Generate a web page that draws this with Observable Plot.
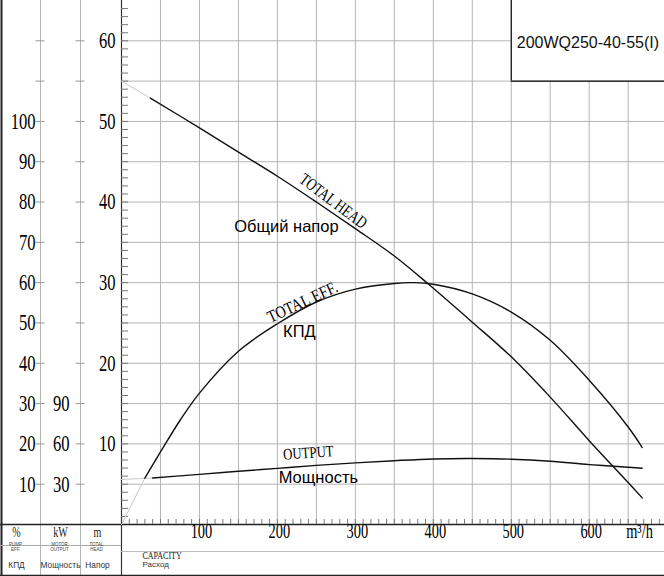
<!DOCTYPE html>
<html><head><meta charset="utf-8">
<script src="https://cdn.jsdelivr.net/npm/d3@7"></script>
<script src="https://cdn.jsdelivr.net/npm/@observablehq/plot@0.6"></script>
<style>
body{margin:0;background:#fff}
#chart{width:664px;height:576px;overflow:hidden}
</style></head><body><div id="chart"></div>
<script>
// ---- data ----
const model = "200WQ250-40-55(I)";
const headQ = [0, 37, 100, 150, 200, 250, 300, 350, 394, 450, 500, 550, 600, 650, 668];
const headM = [55, 52.9, 49.2, 46.2, 43.2, 40.0, 36.7, 33.3, 29.8, 25.1, 20.8, 15.8, 10.4, 5.2, 3.3];
const effQ = [0, 30, 50, 75, 100, 150, 200, 250, 300, 350, 375, 400, 450, 500, 550, 600, 650, 668];
const effPct = [0, 11.5, 18.0, 25.8, 32.6, 43.0, 49.8, 55.2, 58.4, 59.8, 60.0, 59.6, 57.2, 52.7, 45.7, 35.8, 24.2, 19.1];
const powQ = [0, 40, 100, 150, 200, 250, 300, 350, 400, 450, 500, 550, 600, 650, 668];
const powKW = [33.5, 34.6, 37.3, 39.6, 41.8, 44.0, 45.9, 47.5, 48.8, 49.1, 48.6, 47.1, 44.6, 42.6, 41.9];
const headLightTo = 37, effLightTo = 30, powLightTo = 40; // faint extrapolated start of each curve
const headTicks = [10, 20, 30, 40, 50, 60];
const effTicks = [10, 20, 30, 40, 50, 60, 70, 80, 90, 100];
const powTicks = [30, 60, 90];
const capTicks = [100, 200, 300, 400, 500, 600];
const capUnit = "m³/h";
const unitLabels = ["%", "kW", "m"];
const enLabels = ["PUMP\nEFF.", "MOTOR\nOUTPUT", "TOTAL\nHEAD"];
const ruLabels = ["КПД", "Мощность", "Напор"];
const capLabelEn = "CAPACITY", capLabelRu = "Расход";
const curveLabels = {head: ["TOTAL HEAD", "Общий напор"], eff: ["TOTAL EFF.", "КПД"], pow: ["OUTPUT", "Мощность"]};
const effPerM = 2;   // 100 % ↔ 50 m on the shared scale
const kwPerM = 6;    // 30 kW ↔ 5 m on the shared scale

// ---- tables ----
const head = headQ.map((q, i) => ({q, y: headM[i]}));
const eff = effQ.map((q, i) => ({q, y: effPct[i] / effPerM}));
const pow = powQ.map((q, i) => ({q, y: powKW[i] / kwPerM}));
const xMax = 696.6, yMax = 65;
const hGrid = d3.range(5, 61, 5);
const vGrid = d3.range(50, 651, 50);
const minorH = d3.range(1, 65);
const minorQ = d3.range(10, 691, 10);

const SERIF = "Liberation Serif", SANS = "Liberation Sans";
const colDx = [-105, -61, -24];   // column centres relative to the capacity origin
const colLines = [-81, -41];
const grid = "#b4b4b4";
const at = (arr, q) => arr.filter(d => d.q === q);

const marks = [
  // grid
  Plot.ruleY(hGrid, {stroke: grid, strokeWidth: 1}),
  Plot.ruleX(vGrid, {stroke: grid, strokeWidth: 1}),
  // title box
  Plot.rect([model], {x1: 500, x2: xMax, y1: 55, y2: yMax, fill: "white"}),
  Plot.ruleX([500], {y1: 55, y2: yMax, stroke: "black", strokeWidth: 1.2}),
  Plot.ruleY([55], {x1: 500, x2: xMax, stroke: "black", strokeWidth: 1.2}),
  Plot.text([model], {x: (500 + xMax) / 2, y: 60, text: d => d, dy: 2, fontSize: 16, fontFamily: SANS, fill: "#111"}),
  // left column lines
  ...colLines.map(dx => Plot.ruleX([0], {dx, insetBottom: -52, stroke: grid})),
  // column ticks
  ...colLines.map(dx => Plot.ruleY(hGrid, {x1: 0, x2: 0, dx, insetLeft: -4.5, insetRight: -4.5, stroke: "#999"})),
  // axis lines and table lines
  Plot.ruleX([0], {dx: -120, insetBottom: -52, stroke: "#222", strokeWidth: 2}),
  Plot.ruleX([0], {insetBottom: -52, stroke: "#333", strokeWidth: 1.2}),
  Plot.ruleY([0], {insetLeft: -121, stroke: "#222", strokeWidth: 1.5}),
  Plot.ruleY([0], {dy: 21, insetLeft: -121, insetRight: 543, stroke: "#aaa"}),
  Plot.ruleY([0], {dy: 27, stroke: "#bbb"}),
  Plot.ruleY([0], {dy: 51, insetLeft: -121, stroke: "#222", strokeWidth: 1.5}),
  // minor ticks
  Plot.ruleY(minorH, {x1: 0, x2: 0, insetRight: -7, stroke: "#777"}),
  Plot.ruleX(minorQ, {y1: 0, y2: 0, insetTop: -5, stroke: "#777"}),
  // faint starts
  Plot.line(head.filter(d => d.q <= headLightTo), {x: "q", y: "y", stroke: "#c8c8c8", strokeWidth: 1}),
  Plot.line(eff.filter(d => d.q <= effLightTo), {x: "q", y: "y", stroke: "#c8c8c8", strokeWidth: 1}),
  Plot.line(pow.filter(d => d.q <= powLightTo), {x: "q", y: "y", stroke: "#c8c8c8", strokeWidth: 1}),
  // curves
  Plot.line(head.filter(d => d.q >= headLightTo), {x: "q", y: "y", curve: "catmull-rom", stroke: "#111", strokeWidth: 1.4}),
  Plot.line(eff.filter(d => d.q >= effLightTo), {x: "q", y: "y", curve: "catmull-rom", stroke: "#111", strokeWidth: 1.4}),
  Plot.line(pow.filter(d => d.q >= powLightTo), {x: "q", y: "y", curve: "catmull-rom", stroke: "#111", strokeWidth: 1.4}),
  // curve labels
  Plot.text(at(head, 250), {x: "q", y: "y", text: () => curveLabels.head[0], dx: 17, dy: -1, rotate: 37, fontSize: 17, fontFamily: SERIF, className: "c76"}),
  Plot.text(at(head, 200), {x: "q", y: "y", text: () => curveLabels.head[1], dx: 9, dy: 50, fontSize: 16.5, fontFamily: SANS}),
  Plot.text(at(eff, 250), {x: "q", y: "y", text: () => curveLabels.eff[0], dx: -14, dy: 0, rotate: -25, fontSize: 17, fontFamily: SERIF, className: "c84"}),
  Plot.text(at(eff, 250), {x: "q", y: "y", text: () => curveLabels.eff[1], dx: -17, dy: 30, fontSize: 16.5, fontFamily: SANS}),
  Plot.text(at(pow, 250), {x: "q", y: "y", text: () => curveLabels.pow[0], dx: -8, dy: -12.5, rotate: -4, fontSize: 16, fontFamily: SERIF, className: "c80"}),
  Plot.text(at(pow, 250), {x: "q", y: "y", text: () => curveLabels.pow[1], dx: 2, dy: 12, fontSize: 16.5, fontFamily: SANS}),
  // axis labels
  Plot.text(headTicks, {y: d => d, text: d => String(d), frameAnchor: "left", textAnchor: "end", dx: -6, fontSize: 23, fontFamily: SERIF, className: "c72"}),
  Plot.text(effTicks, {y: d => d / effPerM, text: d => String(d), frameAnchor: "left", textAnchor: "end", dx: -86, fontSize: 23, fontFamily: SERIF, className: "c72"}),
  Plot.text(powTicks, {y: d => d / kwPerM, text: d => String(d), frameAnchor: "left", textAnchor: "end", dx: -52, fontSize: 23, fontFamily: SERIF, className: "c72"}),
  Plot.text(capTicks, {x: d => d, text: d => String(d), frameAnchor: "bottom", textAnchor: "middle", dx: 2, dy: 13, fontSize: 20, fontFamily: SERIF, className: "c72"}),
  Plot.text([capUnit], {text: d => d, frameAnchor: "bottom-right", textAnchor: "middle", dx: -25, dy: 13, fontSize: 20, fontFamily: SERIF, className: "c72"}),
  // table texts
  ...unitLabels.map((t, i) => Plot.text([t], {text: d => d, frameAnchor: "bottom-left", textAnchor: "middle", dx: colDx[i], dy: 12, fontSize: 14, fontFamily: SERIF, fill: "#222", className: "c72"})),
  ...enLabels.map((t, i) => Plot.text([t], {text: d => d, frameAnchor: "bottom-left", textAnchor: "middle", dx: colDx[i] - 1, dy: 26.5, fontSize: 4.5, lineHeight: 1.1, fontFamily: SANS, fill: "#444"})),
  ...ruLabels.map((t, i) => Plot.text([t], {text: d => d, frameAnchor: "bottom-left", textAnchor: "middle", dx: colDx[i], dy: 43, fontSize: 8.3, fontFamily: SANS, fill: "#333"})),
  Plot.text([capLabelEn], {text: d => d, frameAnchor: "bottom-left", textAnchor: "start", dx: 21, dy: 34, fontSize: 10, fontFamily: SERIF, fill: "#222", className: "c80"}),
  Plot.text([capLabelRu], {text: d => d, frameAnchor: "bottom-left", textAnchor: "start", dx: 21, dy: 42, fontSize: 8, fontFamily: SANS, fill: "#333"})
];

const chart = Plot.plot({
  width: 664, height: 576,
  marginLeft: 121, marginRight: 0, marginTop: 0, marginBottom: 52,
  x: {domain: [0, xMax], axis: null},
  y: {domain: [0, yMax], axis: null},
  style: {background: "white", overflow: "visible"},
  marks
});
document.getElementById("chart").appendChild(chart);

// condense serif glyphs (the reference uses a narrow serif face)
function condense(sel, k) {
  chart.querySelectorAll(sel).forEach(t => {
    const L = t.getComputedTextLength();
    if (L > 0) {
      t.setAttribute("textLength", (L * k).toFixed(2));
      t.setAttribute("lengthAdjust", "spacingAndGlyphs");
    }
  });
}
condense("g.c72 text", 0.72);
condense("g.c76 text", 0.76);
condense("g.c80 text", 0.8);
condense("g.c84 text", 0.84);
</script></body></html>
